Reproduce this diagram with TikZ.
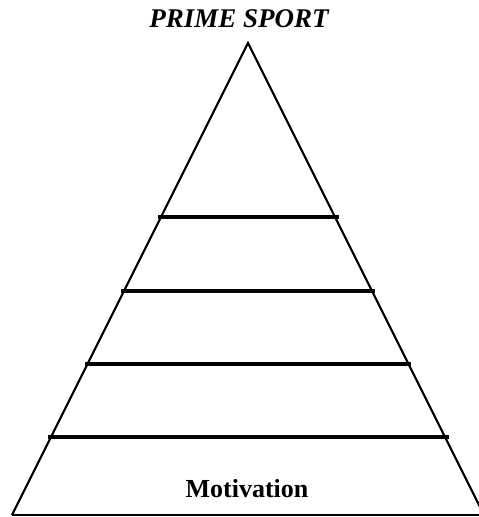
\documentclass[tikz,border=0pt]{standalone}
\usepackage{fontspec}
\setmainfont{Liberation Serif}
\tikzset{
  side/.style={line width=2.2pt, line join=miter},
  level/.style={line width=3.2pt},
  label/.style={inner sep=0pt, anchor=base, font=\bfseries\fontsize{26}{26}\selectfont}
}
\begin{document}
\begin{tikzpicture}[x=1pt,y=-1pt]
\useasboundingbox (0,0) rectangle (479,517);
\begin{scope}
\clip (0,0) rectangle (479,517);
\coordinate (apex) at (248,43);
\coordinate (bl) at (12,515);
\coordinate (br) at (484,515);
\draw[side] (bl) -- (apex) -- (br);
\draw[side] (bl) -- (br);
\end{scope}
\coordinate (l1a) at (158,217); \coordinate (l1b) at (339,217);
\coordinate (l2a) at (121,291); \coordinate (l2b) at (375,291);
\coordinate (l3a) at (85,364); \coordinate (l3b) at (411,364);
\coordinate (l4a) at (48,437); \coordinate (l4b) at (449,437);
\draw[level] (l1a) -- (l1b);
\draw[level] (l2a) -- (l2b);
\draw[level] (l3a) -- (l3b);
\draw[level] (l4a) -- (l4b);
\node[label, font=\bfseries\itshape\fontsize{27}{27}\selectfont] (title) at (239,27) {PRIME SPORT};
\node[label] (motiv) at (247,497) {Motivation};
\end{tikzpicture}
\end{document}
